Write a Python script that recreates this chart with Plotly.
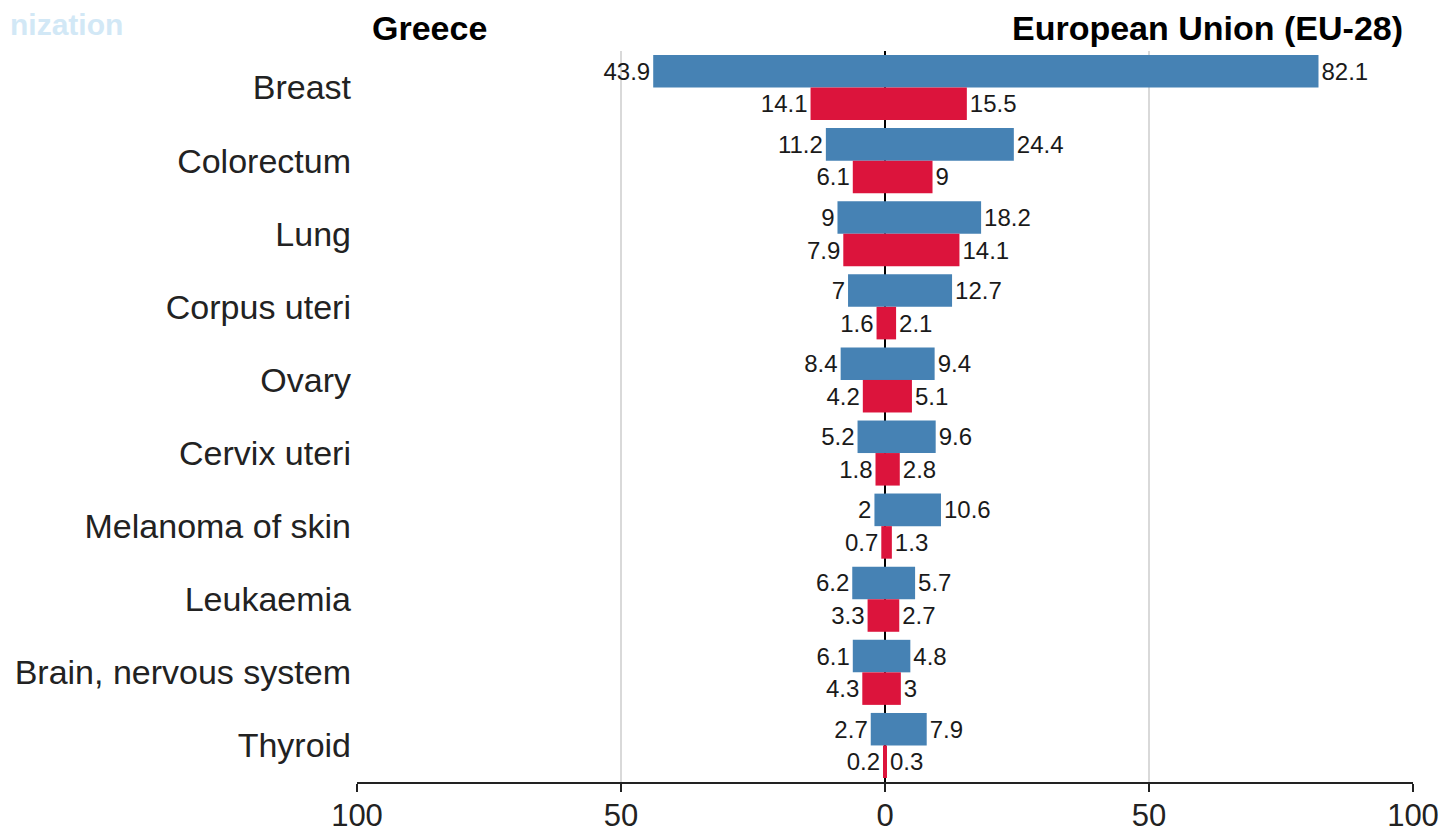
import plotly.graph_objects as go

categories = ["Breast", "Colorectum", "Lung", "Corpus uteri", "Ovary", "Cervix uteri",
              "Melanoma of skin", "Leukaemia", "Brain, nervous system", "Thyroid"]
greece_incidence = [43.9, 11.2, 9, 7, 8.4, 5.2, 2, 6.2, 6.1, 2.7]
greece_mortality = [14.1, 6.1, 7.9, 1.6, 4.2, 1.8, 0.7, 3.3, 4.3, 0.2]
eu_incidence = [82.1, 24.4, 18.2, 12.7, 9.4, 9.6, 10.6, 5.7, 4.8, 7.9]
eu_mortality = [15.5, 9, 14.1, 2.1, 5.1, 2.8, 1.3, 2.7, 3, 0.3]
tick_values = [-100, -50, 0, 50, 100]
tick_labels = ["100", "50", "0", "50", "100"]

BLUE = "#4682B4"
RED = "#DC143C"
VAL_FONT = dict(family="Liberation Sans, Arial", size=24, color="#1a1a1a")


def fmt(v):
    return f"{v:g}"


def bar(values, color, group, left):
    return go.Bar(
        y=categories,
        x=[-v for v in values] if left else values,
        orientation="h",
        marker=dict(color=color, line=dict(width=0)),
        offsetgroup=group,
        text=[fmt(v) for v in values],
        textposition="outside",
        constraintext="none",
        cliponaxis=False,
        textfont=VAL_FONT,
        showlegend=False,
        hoverinfo="skip",
    )


fig = go.Figure()
fig.add_trace(bar(greece_incidence, BLUE, "inc", True))
fig.add_trace(bar(eu_incidence, BLUE, "inc", False))
fig.add_trace(bar(greece_mortality, RED, "mort", True))
fig.add_trace(bar(eu_mortality, RED, "mort", False))

fig.update_layout(
    width=1437,
    height=828,
    margin=dict(l=349, r=32, t=43, b=54, pad=0),
    barmode="group",
    bargap=0.11,
    bargroupgap=0,
    plot_bgcolor="white",
    paper_bgcolor="white",
    font=dict(family="Liberation Sans, Arial", color="#1a1a1a"),
    xaxis=dict(
        automargin=False,
        range=[-100, 100],
        tickvals=tick_values,
        ticktext=tick_labels,
        showgrid=True,
        gridcolor="#d9d9d9",
        gridwidth=2,
        zeroline=True,
        zerolinecolor="black",
        zerolinewidth=2,
        showline=True,
        linecolor="#222",
        linewidth=2,
        ticks="outside",
        ticklen=8,
        tickwidth=2,
        tickcolor="#222",
        ticklabelstandoff=-3,
        tickfont=dict(family="Liberation Sans, Arial", size=31, color="#222"),
        fixedrange=True,
    ),
    yaxis=dict(
        automargin=False,
        categoryorder="array",
        categoryarray=categories,
        autorange="reversed",
        showgrid=False,
        zeroline=False,
        showline=False,
        ticks="",
        ticklabelstandoff=5,
        tickfont=dict(family="Liberation Sans, Arial", size=34, color="#222"),
        fixedrange=True,
    ),
    annotations=[
        dict(text="<b>Greece</b>", xref="paper", yref="paper", x=0.0125, y=1.0,
             xanchor="left", yanchor="bottom", yshift=2, showarrow=False,
             font=dict(family="Liberation Sans, Arial", size=34, color="black")),
        dict(text="<b>European Union (EU-28)</b>", xref="paper", yref="paper", x=0.9925, y=1.0,
             xanchor="right", yanchor="bottom", yshift=2, showarrow=False,
             font=dict(family="Liberation Sans, Arial", size=34, color="black")),
        dict(text="<b>nization</b>", xref="paper", yref="paper", x=-0.3305, y=1.0,
             xanchor="left", yanchor="bottom", yshift=8, showarrow=False,
             font=dict(family="Liberation Sans, Arial", size=30, color="#d2e8f6")),
    ],
)

fig.write_html("out.html")
